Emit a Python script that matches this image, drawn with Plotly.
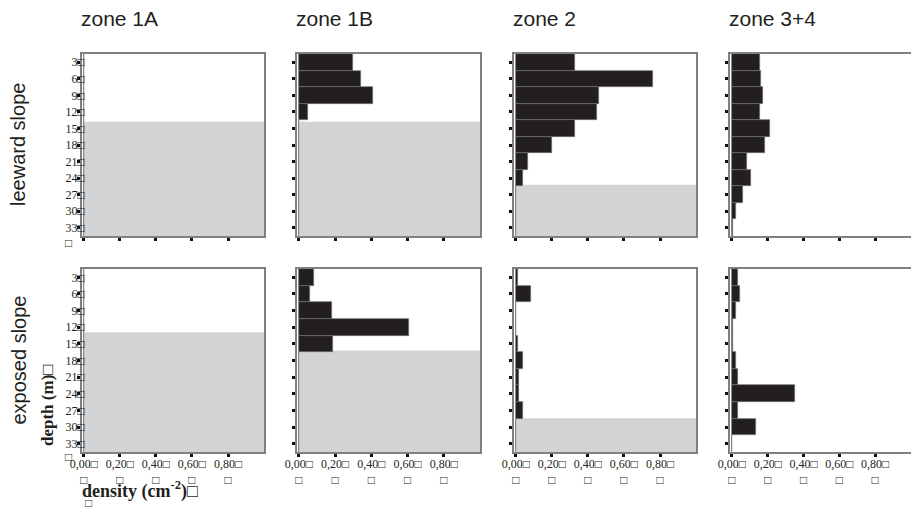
import plotly.graph_objects as go

# ---------------- data ----------------
depths = [3, 6, 9, 12, 15, 18, 21, 24, 27, 30, 33]
zones = ["zone 1A", "zone 1B", "zone 2", "zone 3+4"]
slopes = ["leeward slope", "exposed slope"]

leeward_1A = [0, 0, 0, 0, 0, 0, 0, 0, 0, 0, 0]
leeward_1B = [0.30, 0.34, 0.41, 0.05, 0, 0, 0, 0, 0, 0, 0]
leeward_2 = [0.33, 0.76, 0.46, 0.45, 0.33, 0.20, 0.067, 0.038, 0, 0, 0]
leeward_34 = [0.155, 0.164, 0.174, 0.155, 0.214, 0.184, 0.084, 0.106, 0.064, 0.024, 0.003]

exposed_1A = [0, 0, 0, 0, 0, 0, 0, 0, 0, 0, 0]
exposed_1B = [0.083, 0.06, 0.18, 0.61, 0.19, 0, 0, 0, 0, 0, 0]
exposed_2 = [0.01, 0.085, 0, 0, 0.012, 0.038, 0.016, 0.016, 0.038, 0, 0]
exposed_34 = [0.033, 0.046, 0.024, 0.007, 0.004, 0.024, 0.033, 0.352, 0.033, 0.133, 0]

# depth (m) from which the grey (below-reef) zone starts; None = no grey zone
shade_leeward = [13.8, 13.8, 25.2, None]
shade_exposed = [12.9, 16.2, 28.4, None]

x_tickvals = [0, 0.2, 0.4, 0.6, 0.8]
x_ticktext = ["0,00\u25a1<br>\u25a1", "0,20\u25a1<br>\u25a1", "0,40\u25a1<br>\u25a1",
              "0,60\u25a1<br>\u25a1", "0,80\u25a1<br>\u25a1"]
y_ticktext = [f"{d}\u25a1" for d in depths]

rows_data = [[leeward_1A, leeward_1B, leeward_2, leeward_34],
             [exposed_1A, exposed_1B, exposed_2, exposed_34]]
rows_shade = [shade_leeward, shade_exposed]

# ---------------- layout geometry ----------------
W, H = 911, 510
col_px = [(82, 264), (297, 480), (514, 696), (730, 911)]
row_px = [(54, 236), (269, 452)]

BAR = "#231f20"
GREY = "#d1d3d4"
AXIS = "#808080"
SANS = "Liberation Sans, Arial, Helvetica, sans-serif"
SERIF = "Liberation Serif, Times New Roman, serif"

fig = go.Figure()
layout = {}
shapes = []
annotations = []

idx = 0
for r in range(2):
    for c in range(4):
        idx += 1
        xa = "x" if idx == 1 else f"x{idx}"
        ya = "y" if idx == 1 else f"y{idx}"
        xkey = "xaxis" if idx == 1 else f"xaxis{idx}"
        ykey = "yaxis" if idx == 1 else f"yaxis{idx}"

        fig.add_trace(go.Bar(
            x=rows_data[r][c], y=depths, orientation="h", width=3,
            marker=dict(color=BAR, line=dict(color="#6d6e71", width=0.7)),
            xaxis=xa, yaxis=ya, showlegend=False, hoverinfo="x+y"))

        x0p, x1p = col_px[c]
        y0p, y1p = row_px[r]
        last_col = (c == 3)
        layout[xkey] = dict(
            domain=[x0p / W, x1p / W], anchor=ya, automargin=False,
            range=[-0.011, 1.0], showgrid=False, zeroline=False,
            showline=True, linecolor=AXIS, linewidth=1.5, mirror=True,
            ticks="outside", ticklen=3, tickwidth=3, tickcolor="#111",
            tickvals=x_tickvals, ticktext=x_ticktext,
            showticklabels=(r == 1), ticklabelstandoff=-3,
            tickfont=dict(family=SERIF, size=12, color="#231f20"),
            fixedrange=True)
        layout[ykey] = dict(
            domain=[1 - y1p / H, 1 - y0p / H], anchor=xa, automargin=False,
            range=[34.5, 1.5], showgrid=False, zeroline=False,
            showline=True, linecolor=AXIS, linewidth=1.5,
            mirror=(not last_col),
            ticks="outside", ticklen=3, tickwidth=3, tickcolor="#111",
            tickvals=depths, ticktext=y_ticktext,
            showticklabels=(c == 0), ticklabelstandoff=-10,
            tickfont=dict(family=SERIF, size=12, color="#231f20"),
            fixedrange=True)

        s = rows_shade[r][c]
        if s is not None:
            shapes.append(dict(type="rect", xref=f"{xa} domain", yref=ya,
                               x0=0.012, x1=1, y0=s, y1=34.5,
                               fillcolor=GREY, line=dict(width=0), layer="below"))

# zone titles
for c, z in enumerate(zones):
    annotations.append(dict(text=z, xref="paper", yref="paper",
                            x=(col_px[c][0] - 3) / W, y=1 - 19 / H,
                            xanchor="left", yanchor="middle", showarrow=False,
                            font=dict(family=SANS, size=21, color="#231f20")))
# slope labels
for r, s in enumerate(slopes):
    annotations.append(dict(text=s, xref="paper", yref="paper",
                            x=18 / W, y=1 - ((row_px[r][0] + row_px[r][1]) / 2) / H,
                            xanchor="center", yanchor="middle", textangle=-90,
                            showarrow=False,
                            font=dict(family=SANS, size=20, color="#231f20")))
# axis titles and stray boxes
annotations.append(dict(text="<b>depth (m)\u25a1</b>", xref="paper", yref="paper",
                        x=47 / W, y=1 - 405 / H, xanchor="center", yanchor="middle",
                        textangle=-90, showarrow=False,
                        font=dict(family=SERIF, size=17, color="#231f20")))
annotations.append(dict(text="<b>density (cm<sup>-2</sup>)\u25a1</b>", xref="paper", yref="paper",
                        x=80 / W, y=1 - 490 / H, xanchor="left", yanchor="middle",
                        showarrow=False,
                        font=dict(family=SERIF, size=18, color="#231f20")))
for (bx, by) in [(68, 243), (68, 457), (88, 503)]:
    annotations.append(dict(text="\u25a1", xref="paper", yref="paper",
                            x=bx / W, y=1 - by / H, xanchor="center", yanchor="middle",
                            showarrow=False,
                            font=dict(family=SERIF, size=12, color="#231f20")))

fig.update_layout(
    width=W, height=H, margin=dict(l=0, r=0, t=0, b=0),
    paper_bgcolor="white", plot_bgcolor="white",
    bargap=0, shapes=shapes, annotations=annotations, showlegend=False,
    **layout)

fig.write_html("out.html", config={"displayModeBar": False},
               post_script="document.body.style.margin='0';document.body.style.overflow='hidden';")
